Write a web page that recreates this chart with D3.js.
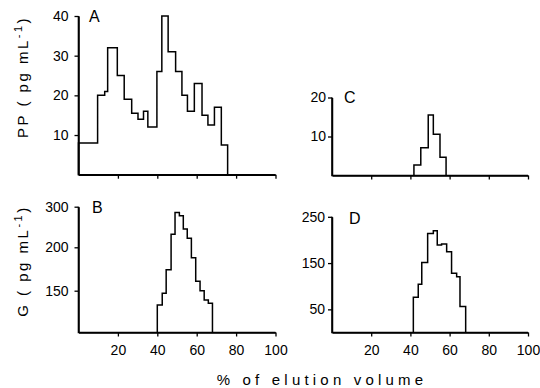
<!DOCTYPE html>
<html>
<head>
<meta charset="utf-8">
<script src="https://cdn.jsdelivr.net/npm/d3@7"></script>
<style>
  html, body { margin: 0; padding: 0; background: #fff; }
  svg { display: block; }
</style>
</head>
<body>
<svg id="chart" width="540" height="388"></svg>
<script>
// ---- Data (x = % of elution volume, bin edges; y = concentration per bin) ----
const xTicks = [20, 40, 60, 80, 100];

// Panel A: PP (pg/mL)
const edgesA  = [0, 9.7, 13.3, 14.8, 19.7, 23.2, 27, 30.2, 33, 35.2, 39.8, 42.3, 45.5, 49.3, 52.5, 55.3, 58.8, 62.7, 65.7, 69, 72.5, 75.7];
const valuesA = [8, 20, 21, 32, 25, 19, 15.5, 14, 16, 12, 26, 40, 31, 26, 20, 16, 23, 15, 12.5, 17, 7.5];
const yTicksA = [10, 20, 30, 40];

// Panel C: PP (pg/mL)
const edgesC  = [41.8, 45.3, 49.1, 51.7, 55.1, 58.2];
const valuesC = [2.7, 7.1, 15.5, 10.6, 4.7];
const yTicksC = [10, 20];

// Panel B: G (pg/mL)  (axis as printed: 150, 200, 300)
const edgesB  = [40, 42.5, 44.5, 47, 49, 51.2, 53.2, 55.2, 57.3, 59.5, 61.7, 63.8, 65.9, 68];
const valuesB = [133, 147, 174, 232, 286, 278, 245, 222, 188, 161, 150, 139, 135];
const yTicksB = [150, 200, 300];
const yDomainB = [100, 150, 200, 300];

// Panel D: G (pg/mL)
const edgesD  = [41.5, 44.0, 45.8, 48.8, 51.7, 53.7, 55.9, 58.5, 61.0, 63.6, 65.3, 68.2];
const valuesD = [76, 104, 151, 214, 220, 189, 191, 174.5, 128, 120.5, 56];
const yTicksD = [50, 150, 250];

const panelLabels = ["A", "B", "C", "D"];
const xTitle = "% of elution volume";

// ---- Drawing ----
const svg = d3.select("#chart");
const FONT = "Liberation Sans, Arial, Helvetica, sans-serif";

const xLeft  = d3.scaleLinear().domain([0, 100]).range([78.5, 275.5]);
const xRight = d3.scaleLinear().domain([0, 100]).range([332, 528]);

const yA = d3.scaleLinear().domain([0, 40]).range([174.7, 16]);
const yC = d3.scaleLinear().domain([0, 20]).range([175.5, 97.5]);
const yB = d3.scaleLinear().domain(yDomainB).range([332.5, 290.7, 247.3, 206.7]);
const yD = d3.scaleLinear().domain([0, 250]).range([332.5, 216.8]);

function stepPoints(edges, values, base) {
  const pts = [[edges[0], base]];
  values.forEach((v, i) => pts.push([edges[i], v]));
  pts.push([edges[edges.length - 1], values[values.length - 1]]);
  pts.push([edges[edges.length - 1], base]);
  return pts;
}

function styleAxis(g) {
  g.attr("font-family", FONT).attr("font-size", 14);
  g.select(".domain").attr("stroke", "#000").attr("stroke-width", 1.5).attr("fill", "none");
  g.selectAll(".tick line").attr("stroke", "#000").attr("stroke-width", 1.3);
  g.selectAll(".tick text").attr("fill", "#000");
}

function panel(opts) {
  const { x, y, edges, values, base, yTicks, showXLabels, label, labelX, labelY, yPad } = opts;
  const y0 = y(base);
  const x0 = x(0);
  const [xMin, xMax] = x.domain();
  const yTop = d3.max(y.domain());

  // x axis
  const gx = svg.append("g")
    .attr("transform", `translate(0,${y0})`)
    .call(d3.axisBottom(x).tickValues(xTicks).tickSize(4).tickSizeOuter(0)
      .tickPadding(9)
      .tickFormat(showXLabels ? d3.format("d") : () => ""));
  styleAxis(gx);

  // y axis
  const gy = svg.append("g")
    .attr("transform", `translate(${x0},0)`)
    .call(d3.axisLeft(y).tickValues(yTicks).tickSize(4).tickSizeOuter(0).tickPadding(yPad));
  styleAxis(gy);

  // axis frame drawn from the scales (y-axis line and x-axis line)
  const frame = d3.line().x(d => x(d[0])).y(d => y(d[1]));
  svg.append("path")
    .datum([[xMin, yTop], [xMin, base], [xMax, base]])
    .attr("fill", "none")
    .attr("stroke", "#000")
    .attr("stroke-width", 1.6)
    .attr("d", frame);

  // step histogram
  const line = d3.line()
    .x(d => x(d[0]))
    .y(d => y(d[1]))
    .curve(d3.curveStepAfter);
  svg.append("path")
    .datum(stepPoints(edges, values, base))
    .attr("fill", "none")
    .attr("stroke", "#000")
    .attr("stroke-width", 1.5)
    .attr("d", line);

  svg.append("text")
    .attr("x", labelX).attr("y", labelY)
    .attr("font-family", FONT).attr("font-size", 16)
    .attr("fill", "#000")
    .text(label);
}

panel({ x: xLeft,  y: yA, edges: edgesA, values: valuesA, base: 0,   yTicks: yTicksA, showXLabels: false, label: panelLabels[0], labelX: 89,  labelY: 22,  yPad: 6 });
panel({ x: xLeft,  y: yB, edges: edgesB, values: valuesB, base: yDomainB[0], yTicks: yTicksB, showXLabels: true,  label: panelLabels[1], labelX: 92,  labelY: 213, yPad: 6 });
panel({ x: xRight, y: yC, edges: edgesC, values: valuesC, base: 0,   yTicks: yTicksC, showXLabels: false, label: panelLabels[2], labelX: 344, labelY: 103, yPad: 2 });
panel({ x: xRight, y: yD, edges: edgesD, values: valuesD, base: 0,   yTicks: yTicksD, showXLabels: true,  label: panelLabels[3], labelX: 349, labelY: 224, yPad: 3 });

// y titles
function yTitle(prefix, cx, cy) {
  const t = svg.append("text")
    .attr("transform", `translate(${cx},${cy}) rotate(-90)`)
    .attr("text-anchor", "middle")
    .attr("font-family", FONT).attr("font-size", 15)
    .attr("letter-spacing", 2.5)
    .attr("fill", "#000");
  t.append("tspan").text(prefix + " ( pg mL");
  t.append("tspan").attr("dy", -6).attr("font-size", 11).text("-1");
  t.append("tspan").attr("dy", 6).text(")");
}
yTitle("PP", 28, 77);
yTitle("G", 28, 261);

// x title
svg.append("text")
  .attr("x", 322).attr("y", 385)
  .attr("text-anchor", "middle")
  .attr("font-family", FONT).attr("font-size", 15)
  .attr("letter-spacing", 4.2)
  .attr("fill", "#000")
  .text(xTitle);
</script>
</body>
</html>
